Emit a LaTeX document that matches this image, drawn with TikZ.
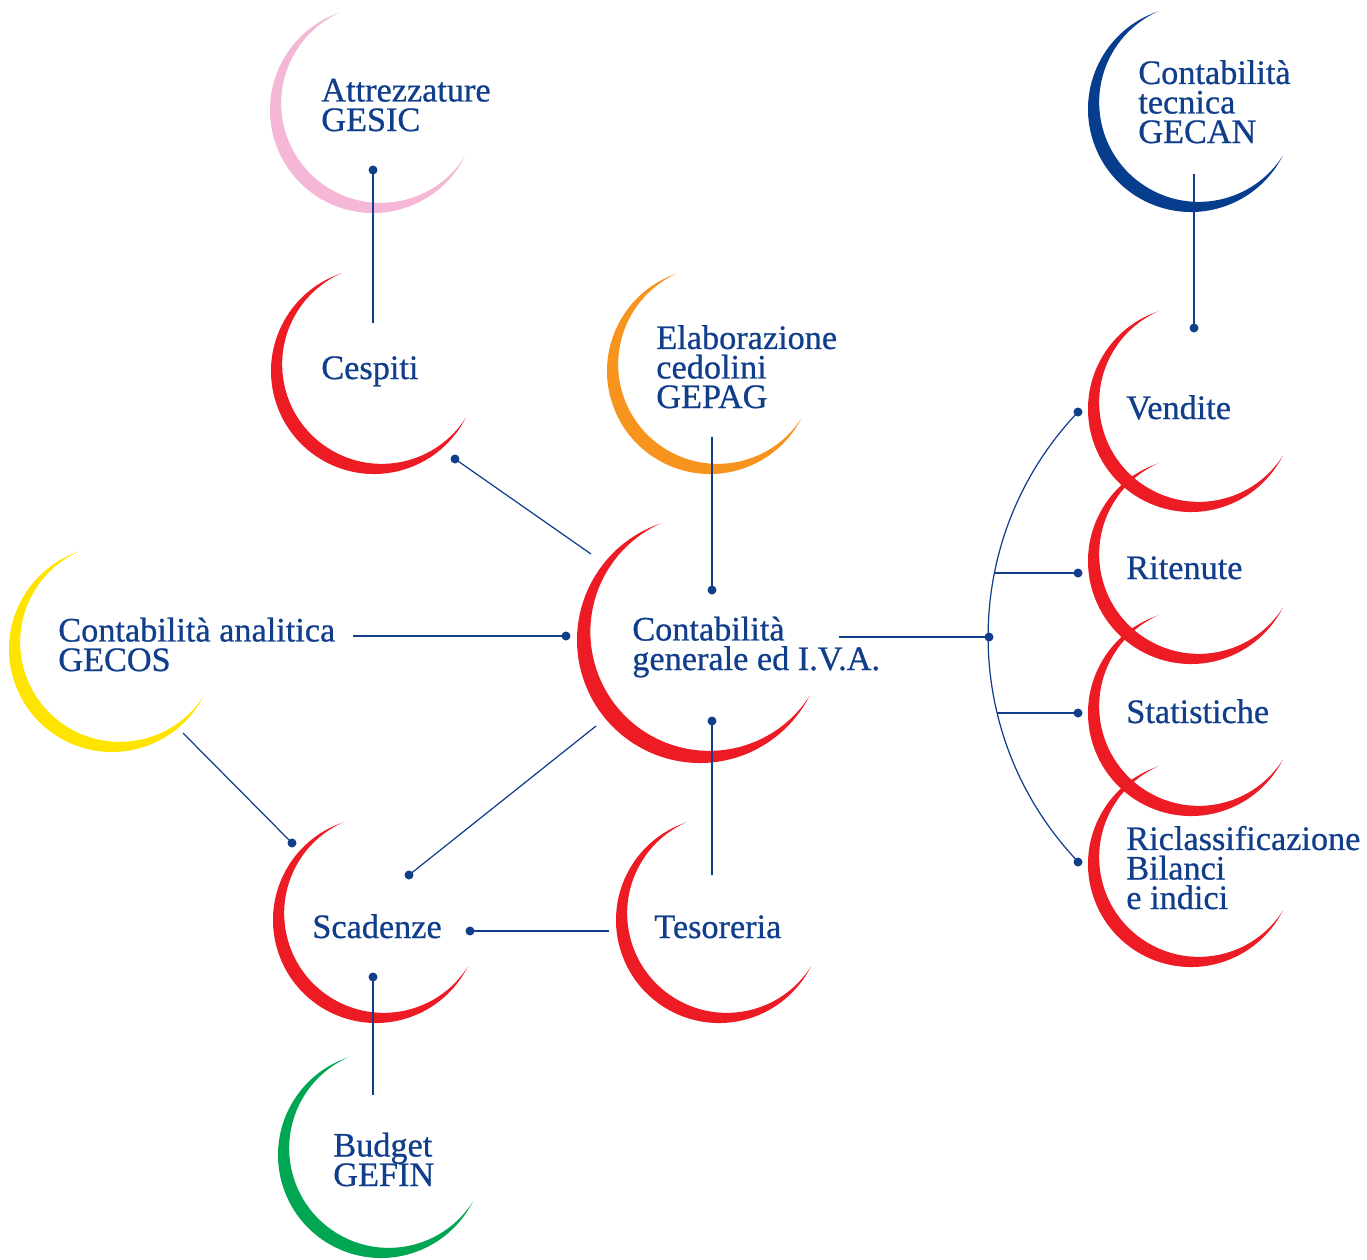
\documentclass[tikz,border=0pt]{standalone}
\usepackage{fontspec}
\setmainfont{Liberation Serif}
\newfontfamily\modfont[FakeBold=0.7]{Liberation Serif}

\definecolor{ink}{RGB}{16,62,139}
\definecolor{crimson}{RGB}{237,28,36}
\definecolor{blush}{RGB}{244,183,213}
\definecolor{tangerine}{RGB}{247,148,30}
\definecolor{sun}{RGB}{255,228,0}
\definecolor{leaf}{RGB}{0,166,81}
\definecolor{navy}{RGB}{7,61,141}

\begin{document}
\begin{tikzpicture}[
			x=0.02cm, y=0.02cm,
			module/.style={
				anchor=base west,
				align=left,
				inner sep=0pt,
				text=ink,
				font={\modfont\fontsize{19.5}{16.8}\selectfont\lineskiplimit=-8pt\relax}
			},
			link/.style={
				draw=ink,
				line width=0.7pt
			},
			pics/crescent/.style={
				code={
					\path [fill=#1] (108.5:103) arc[start angle=108.5, end angle=333, radius=103]
						arc[start angle=-32.5, end angle=-246.1, radius=99.6] -- cycle;
				}
			}]

			\useasboundingbox (0,0) rectangle (1367,-1259);

			%%% Draw all of the coloured rings first
			\foreach \x/\y/\col in {373/110/blush, 374/371/crimson, 710/371/tangerine,
					1191/109/navy, 112/649/sun, 376/920/crimson, 719/920/crimson,
					381/1155/leaf, 1191/409/crimson, 1191/561/crimson,
					1191/713/crimson, 1191/864/crimson} {
				\pic at (\x,-\y) {crescent=\col};
			};
			% the main ring is a little larger
			\pic [scale=1.194] at (700,-640) {crescent=crimson};

			%%% Connector ends
			\coordinate (gesic-dot) at (373,-170);
			\coordinate (cesp-n) at (373,-323);
			\coordinate (cesp-dot) at (455,-459);
			\coordinate (iva-nw) at (591,-554);
			\coordinate (gepag-s) at (712,-437);
			\coordinate (iva-top) at (712,-590);
			\coordinate (gecan-s) at (1194,-174);
			\coordinate (vend-top) at (1194,-328);
			\coordinate (gecos-e) at (353,-636);
			\coordinate (iva-left) at (566,-636);
			\coordinate (gecos-se) at (183,-733);
			\coordinate (scad-nw) at (292,-843);
			\coordinate (iva-sw) at (596,-726);
			\coordinate (scad-ne) at (409,-875);
			\coordinate (iva-bot) at (712,-721);
			\coordinate (teso-n) at (712,-875);
			\coordinate (teso-w) at (609,-931);
			\coordinate (scad-e) at (470,-931);
			\coordinate (scad-s) at (373,-977);
			\coordinate (gefin-n) at (373,-1095);
			\coordinate (iva-e) at (839,-637);
			\coordinate (hub) at (989,-637);
			\coordinate (vend-dot) at (1078,-412);
			\coordinate (rit-fork) at (994.5,-573);
			\coordinate (rit-dot) at (1078,-573);
			\coordinate (stat-fork) at (997,-713);
			\coordinate (stat-dot) at (1078,-713);
			\coordinate (ricl-dot) at (1078,-862);

			\path [link] (gesic-dot) edge (cesp-n);
			\path [link] (cesp-dot) edge (iva-nw);
			\path [link] (gepag-s) edge (iva-top);
			\path [link] (gecan-s) edge (vend-top);
			\path [link] (gecos-e) edge (iva-left);
			\path [link] (gecos-se) edge (scad-nw);
			\path [link] (iva-sw) edge (scad-ne);
			\path [link] (iva-bot) edge (teso-n);
			\path [link] (teso-w) edge (scad-e);
			\path [link] (scad-s) edge (gefin-n);
			\path [link] (iva-e) edge (hub);

			% fork towards the four sales modules
			\draw [link] (vend-dot) arc[start angle=136.4, end angle=223.6, radius=326];
			\path [link] (rit-fork) edge (rit-dot);
			\path [link] (stat-fork) edge (stat-dot);

			\foreach \p in {gesic-dot, cesp-dot, iva-top, vend-top, iva-left, scad-nw, scad-ne,
					iva-bot, scad-e, scad-s, hub, vend-dot, rit-dot, stat-dot, ricl-dot} {
				\fill [ink] (\p) circle (4.5);
			};

			%%% Module names (multi-line ones sit on their last line)
			\node [module] (gesic) at (321,-131) {Attrezzature\\GESIC};
			\node [module] (cesp) at (321,-379) {Cespiti};
			\node [module] (gepag) at (656,-408) {Elaborazione\\cedolini\\GEPAG};
			\node [module] (gecan) at (1138,-143) {Contabilità\\tecnica\\GECAN};
			\node [module] (iva) at (632,-670) {Contabilità\\generale ed I.V.A.};
			\node [module] (gecos) at (58,-671) {Contabilità analitica\\GECOS};
			\node [module] (scad) at (312,-938) {Scadenze};
			\node [module] (teso) at (654,-938) {Tesoreria};
			\node [module] (gefin) at (333,-1186) {Budget\\GEFIN};
			\node [module] (vend) at (1126,-419) {Vendite};
			\node [module] (rit) at (1126,-579) {Ritenute};
			\node [module] (stat) at (1126,-723) {Statistiche};
			\node [module] (ricl) at (1126,-909) {Riclassificazione\\Bilanci\\e indici};

		\end{tikzpicture}
\end{document}
